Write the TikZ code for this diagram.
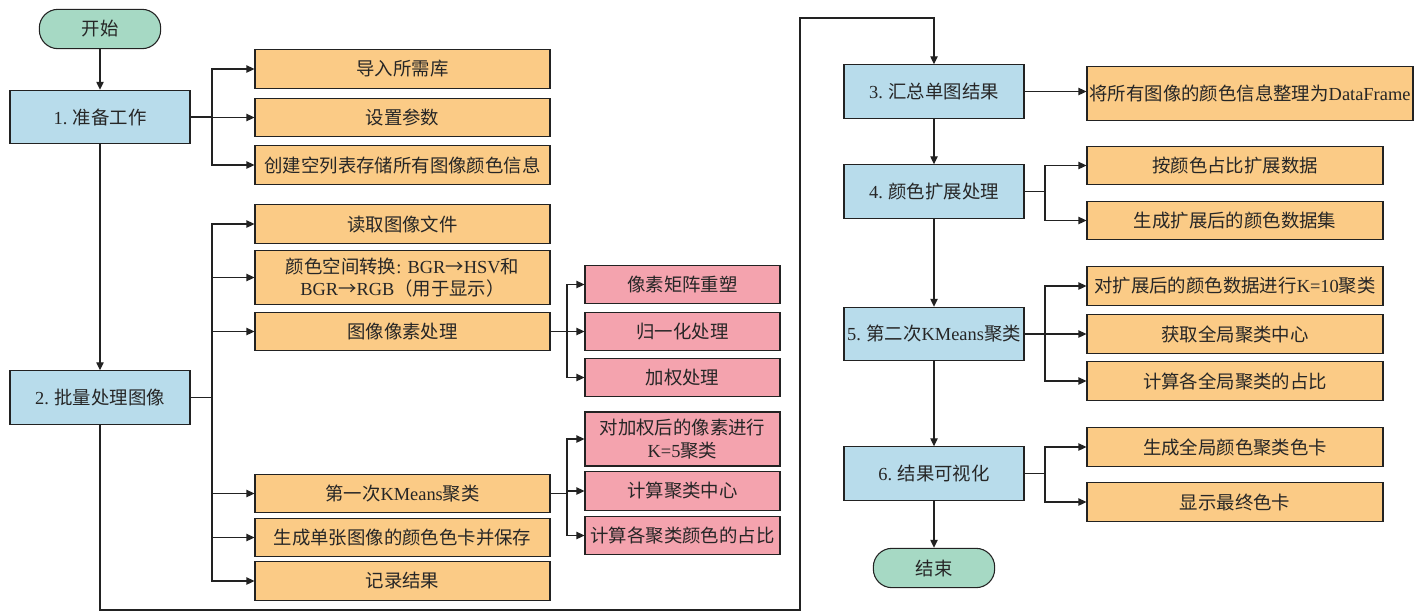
\documentclass[tikz,border=0pt]{standalone}
\usepackage{fontspec}
\setmainfont{Liberation Serif}
\newfontfamily\cjk{Noto Sans CJK SC}
\usetikzlibrary{arrows.meta,calc}
\newcommand\lat[1]{{\rmfamily #1}}
\definecolor{cBlue}{HTML}{B8DCEB}
\definecolor{cOrange}{HTML}{FBCB86}
\definecolor{cPink}{HTML}{F4A3AE}
\definecolor{cGreen}{HTML}{A6D9C4}
\definecolor{cLine}{HTML}{222222}
\begin{document}
\begin{tikzpicture}[x=0.75pt,y=-0.75pt,
  box/.style={draw=cLine, line width=0.8pt, inner sep=1pt, align=center,
    font=\cjk\fontsize{13.8}{17}\selectfont, text=black!85},
  blue/.style={box, fill=cBlue, minimum width=135pt, minimum height=40pt},
  org/.style={box, fill=cOrange, minimum width=221.25pt, minimum height=29pt},
  pnk/.style={box, fill=cPink, minimum width=146.25pt, minimum height=29pt},
  orgr/.style={box, fill=cOrange, minimum width=222pt, minimum height=29pt},
  term/.style={box, fill=cGreen, rounded corners=14pt, minimum width=91pt, minimum height=29.5pt},
  arr/.style={draw=cLine, -{Triangle[length=6pt,width=5.5pt]}, line width=0.9pt},
  ln/.style={draw=cLine, line width=0.9pt}]
\useasboundingbox (0,0) rectangle (1428,615);
\fill[white] (0,0) rectangle (1428,615);

% left column
\node[term] (start) at (100,29) {开始};
\node[blue] (b1) at (100,117) {\lat{1.} 准备工作};
\node[blue] (b2) at (100,397.5) {\lat{2.} 批量处理图像};

% orange column 1
\node[org] (a1) at (402.5,69) {导入所需库};
\node[org] (a2) at (402.5,117.5) {设置参数};
\node[org] (a3) at (402.5,165) {创建空列表存储所有图像颜色信息};
\node[org] (c1) at (402.5,224) {读取图像文件};
\node[org, minimum height=40pt] (c2) at (402.5,277.5) {颜色空间转换\lat{: BGR}→\lat{HSV}和\\\lat{BGR}→\lat{RGB}（用于显示）};
\node[org] (c3) at (402.5,331.5) {图像像素处理};
\node[org] (c4) at (402.5,493.5) {第一次\lat{KMeans}聚类};
\node[org] (c5) at (402.5,537.5) {生成单张图像的颜色色卡并保存};
\node[org] (c6) at (402.5,581) {记录结果};

% pink column
\node[pnk] (p1) at (682.5,284.5) {像素矩阵重塑};
\node[pnk] (p2) at (682.5,331.5) {归一化处理};
\node[pnk] (p3) at (682.5,377.5) {加权处理};
\node[pnk, minimum height=40.5pt] (p4) at (682.5,439) {对加权后的像素进行\\\lat{K=5}聚类};
\node[pnk] (p5) at (682.5,491) {计算聚类中心};
\node[pnk] (p6) at (682.5,535.5) {计算各聚类颜色的占比};

% right main column
\node[blue] (b3) at (934,91.5) {\lat{3.} 汇总单图结果};
\node[blue] (b4) at (934,191.5) {\lat{4.} 颜色扩展处理};
\node[blue] (b5) at (934,334) {\lat{5.} 第二次\lat{KMeans}聚类};
\node[blue] (b6) at (934,473.5) {\lat{6.} 结果可视化};
\node[term] (end) at (934,568) {结束};

% right orange column
\node[box, fill=cOrange, minimum width=244.5pt, minimum height=40pt, inner sep=0pt] (r0) at (1250,93.5) {将所有图像的颜色信息整理为\lat{DataFrame}};
\node[orgr] (r1) at (1235,165.5) {按颜色占比扩展数据};
\node[orgr] (r2) at (1235,220.5) {生成扩展后的颜色数据集};
\node[orgr] (r3) at (1235,286) {对扩展后的颜色数据进行\lat{K=10}聚类};
\node[orgr] (r4) at (1235,334) {获取全局聚类中心};
\node[orgr] (r5) at (1235,381) {计算各全局聚类的占比};
\node[orgr] (r6) at (1235,447) {生成全局颜色聚类色卡};
\node[orgr] (r7) at (1235,502) {显示最终色卡};

% junction coordinates
\coordinate (jA) at (212,0);
\coordinate (jP) at (567,0);
\coordinate (jR) at (1045,0);
\coordinate (lp1) at (100,610);
\coordinate (lp2) at (800,610);
\coordinate (lp3) at (800,18);
\coordinate (lp4) at (934,18);

% vertical flow
\draw[arr] (start) -- (b1);
\draw[arr] (b1) -- (b2);
\draw[arr] (b3) -- (b4);
\draw[arr] (b4) -- (b5);
\draw[arr] (b5) -- (b6);
\draw[arr] (b6) -- (end);
\draw[arr] (b2.south) -- (lp1) -- (lp2) -- (lp3) -- (lp4) -- (b3.north);

% branches of box 1
\draw[ln] (b1.east) -- (b1.east -| jA);
\foreach \t in {a1,a2,a3} \draw[arr] (b1.east -| jA) |- (\t.west);
% branches of box 2
\draw[ln] (b2.east) -- (b2.east -| jA);
\foreach \t in {c1,c2,c3,c4,c5,c6} \draw[arr] (b2.east -| jA) |- (\t.west);
% pink branches
\draw[ln] (c3.east) -- (c3.east -| jP);
\foreach \t in {p1,p2,p3} \draw[arr] (c3.east -| jP) |- (\t.west);
\draw[ln] (c4.east) -- (c4.east -| jP);
\foreach \t in {p4,p5,p6} \draw[arr] (c4.east -| jP) |- (\t.west);
% right branches
\draw[arr] (b3.east) -- (b3.east -| r0.west);
\draw[ln] (b4.east) -- (b4.east -| jR);
\foreach \t in {r1,r2} \draw[arr] (b4.east -| jR) |- (\t.west);
\draw[ln] (b5.east) -- (b5.east -| jR);
\foreach \t in {r3,r4,r5} \draw[arr] (b5.east -| jR) |- (\t.west);
\draw[ln] (b6.east) -- (b6.east -| jR);
\foreach \t in {r6,r7} \draw[arr] (b6.east -| jR) |- (\t.west);
\end{tikzpicture}
\end{document}
